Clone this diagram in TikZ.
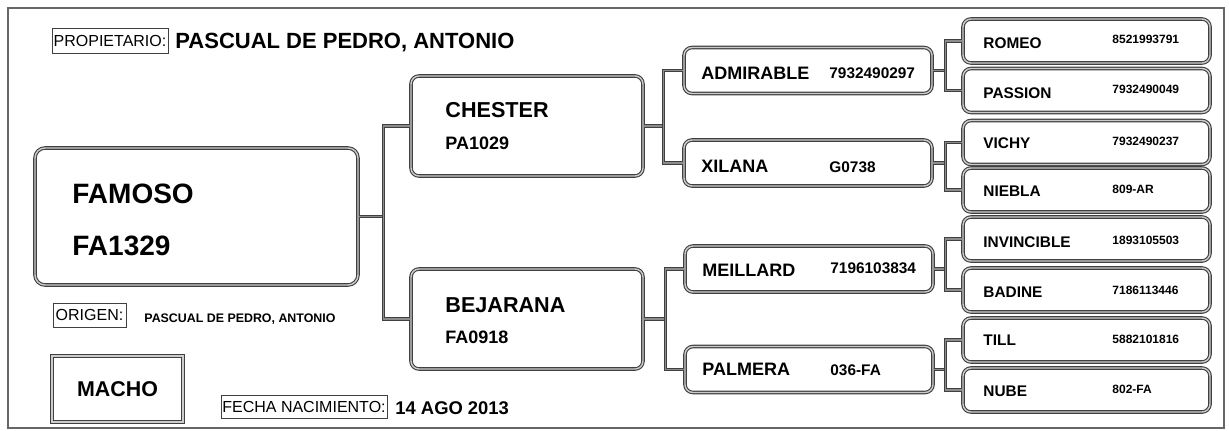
\documentclass[tikz,border=0pt]{standalone}
\usepackage{fontspec}
\setmainfont{Liberation Sans}
\definecolor{linegray}{gray}{0.25}
\newcommand{\fsize}[1]{\fontsize{#1}{#1}\selectfont}

\begin{document}
\begin{tikzpicture}[x=0.5pt,y=-0.5pt,
  caja/.style={draw=linegray,double=black!20,double distance=0.7pt,line width=0.55pt,rounded corners=4pt,inner sep=0pt},
  link/.style={draw=linegray,double=black!45,double distance=0.6pt,line width=0.5pt},
  etiq/.style={draw=linegray,line width=0.5pt,inner sep=0pt,font=\fsize{8}},
  txt/.style={anchor=base west,inner sep=0pt}]
  \useasboundingbox (0,0) rectangle (1229,430);
  \draw[black!60,line width=0.9pt] (8,8) rectangle (1224,428);

  % datos
  \node[etiq,minimum width=58pt,minimum height=12.5pt] (prop) at (110,40.5) {PROPIETARIO:};
  \node[txt,font=\bfseries\fsize{11}] (propn) at (175,48) {PASCUAL DE PEDRO, ANTONIO};
  \node[etiq,minimum width=36.5pt,minimum height=12pt] (origen) at (89.5,315) {ORIGEN:};
  \node[txt,font=\bfseries\fsize{6.2}] (origenn) at (144,322) {PASCUAL DE PEDRO, ANTONIO};
  \node[caja,rounded corners=0pt,minimum width=65.5pt,minimum height=33pt,font=\bfseries\fsize{10.7}] (macho) at (117.5,389) {MACHO};
  \node[etiq,minimum width=83pt,minimum height=11.5pt] (fecha) at (304,406.5) {FECHA NACIMIENTO:};
  \node[txt,font=\bfseries\fsize{9.2}] (fechan) at (395,414) {14 AGO 2013};

  % animal
  \node[caja,minimum width=161.5pt,minimum height=68.5pt,rounded corners=5pt] (famoso) at (196.5,216.5) {};
  \node[txt,font=\bfseries\fsize{14}] (famosoa) at (72,203) {FAMOSO};
  \node[txt,font=\bfseries\fsize{14}] (famosob) at (72,255) {FA1329};

  % padres
  \node[caja,minimum width=116pt,minimum height=50pt] (chester) at (527,126) {};
  \node[txt,font=\bfseries\fsize{10.8}] (chestera) at (445,117) {CHESTER};
  \node[txt,font=\bfseries\fsize{9}] (chesterb) at (445,149) {PA1029};
  \node[caja,minimum width=116pt,minimum height=50pt] (bejarana) at (527,319) {};
  \node[txt,font=\bfseries\fsize{10.8}] (bejaranaa) at (445,312) {BEJARANA};
  \node[txt,font=\bfseries\fsize{9}] (bejaranab) at (445,343) {FA0918};

  % abuelos
  \node[caja,minimum width=124pt,minimum height=23pt] (admirable) at (808,70.5) {};
  \node[txt,font=\bfseries\fsize{9}] (admirablea) at (701,79) {ADMIRABLE};
  \node[txt,font=\bfseries\fsize{7.7}] (admirableb) at (829,78) {7932490297};
  \node[caja,minimum width=124pt,minimum height=23pt] (xilana) at (808,163) {};
  \node[txt,font=\bfseries\fsize{9}] (xilanaa) at (701,172) {XILANA};
  \node[txt,font=\bfseries\fsize{7.7}] (xilanab) at (829,172) {G0738};
  \node[caja,minimum width=124pt,minimum height=23pt] (meillard) at (809,269) {};
  \node[txt,font=\bfseries\fsize{9}] (meillarda) at (702,276) {MEILLARD};
  \node[txt,font=\bfseries\fsize{7.7}] (meillardb) at (830,273) {7196103834};
  \node[caja,minimum width=124pt,minimum height=23pt] (palmera) at (809,369.5) {};
  \node[txt,font=\bfseries\fsize{9}] (palmeraa) at (702,375) {PALMERA};
  \node[txt,font=\bfseries\fsize{7.7}] (palmerab) at (830,375) {036-FA};

  % bisabuelos
  \node[caja,minimum width=123.5pt,minimum height=22pt] (romeo) at (1086.5,41) {};
  \node[txt,font=\bfseries\fsize{7.7}] (romeoa) at (983,48) {ROMEO};
  \node[txt,font=\bfseries\fsize{6}] (romeob) at (1112,43) {8521993791};
  \node[caja,minimum width=123.5pt,minimum height=22pt] (passion) at (1086.5,90.5) {};
  \node[txt,font=\bfseries\fsize{7.7}] (passiona) at (983,98) {PASSION};
  \node[txt,font=\bfseries\fsize{6}] (passionb) at (1112,93) {7932490049};
  \node[caja,minimum width=123.5pt,minimum height=22pt] (vichy) at (1086.5,142.5) {};
  \node[txt,font=\bfseries\fsize{7.7}] (vichya) at (983,148) {VICHY};
  \node[txt,font=\bfseries\fsize{6}] (vichyb) at (1112,145) {7932490237};
  \node[caja,minimum width=123.5pt,minimum height=22pt] (niebla) at (1086.5,190) {};
  \node[txt,font=\bfseries\fsize{7.7}] (nieblaa) at (983,196) {NIEBLA};
  \node[txt,font=\bfseries\fsize{6}] (nieblab) at (1112,193) {809-AR};
  \node[caja,minimum width=123.5pt,minimum height=22pt] (invincible) at (1086.5,239) {};
  \node[txt,font=\bfseries\fsize{7.7}] (invinciblea) at (983,247) {INVINCIBLE};
  \node[txt,font=\bfseries\fsize{6}] (invincibleb) at (1112,244) {1893105503};
  \node[caja,minimum width=123.5pt,minimum height=22pt] (badine) at (1086.5,290) {};
  \node[txt,font=\bfseries\fsize{7.7}] (badinea) at (983,297) {BADINE};
  \node[txt,font=\bfseries\fsize{6}] (badineb) at (1112,294) {7186113446};
  \node[caja,minimum width=123.5pt,minimum height=22pt] (till) at (1086.5,340) {};
  \node[txt,font=\bfseries\fsize{7.7}] (tilla) at (983,345) {TILL};
  \node[txt,font=\bfseries\fsize{6}] (tillb) at (1112,343) {5882101816};
  \node[caja,minimum width=123.5pt,minimum height=22pt] (nube) at (1086.5,390) {};
  \node[txt,font=\bfseries\fsize{7.7}] (nubea) at (983,396) {NUBE};
  \node[txt,font=\bfseries\fsize{6}] (nubeb) at (1112,393) {802-FA};

  % lineas
  \draw[link] (famoso.east) -- ++(25,0) coordinate (j0);
  \draw[link] (chester.west) -| (j0) |- (bejarana.west);
  \draw[link] (chester.east) -- ++(20,0) coordinate (j1);
  \draw[link] (admirable.west) -| (j1) |- (xilana.west);
  \draw[link] (bejarana.east) -- ++(22,0) coordinate (j2);
  \draw[link] (meillard.west) -| (j2) |- (palmera.west);
  \draw[link] (admirable.east) -- ++(13,0) coordinate (j3);
  \draw[link] (romeo.west) -| (j3) |- (passion.west);
  \draw[link] (xilana.east) -- ++(13,0) coordinate (j4);
  \draw[link] (vichy.west) -| (j4) |- (niebla.west);
  \draw[link] (meillard.east) -- ++(12,0) coordinate (j5);
  \draw[link] (invincible.west) -| (j5) |- (badine.west);
  \draw[link] (palmera.east) -- ++(12,0) coordinate (j6);
  \draw[link] (till.west) -| (j6) |- (nube.west);
\end{tikzpicture}
\end{document}
